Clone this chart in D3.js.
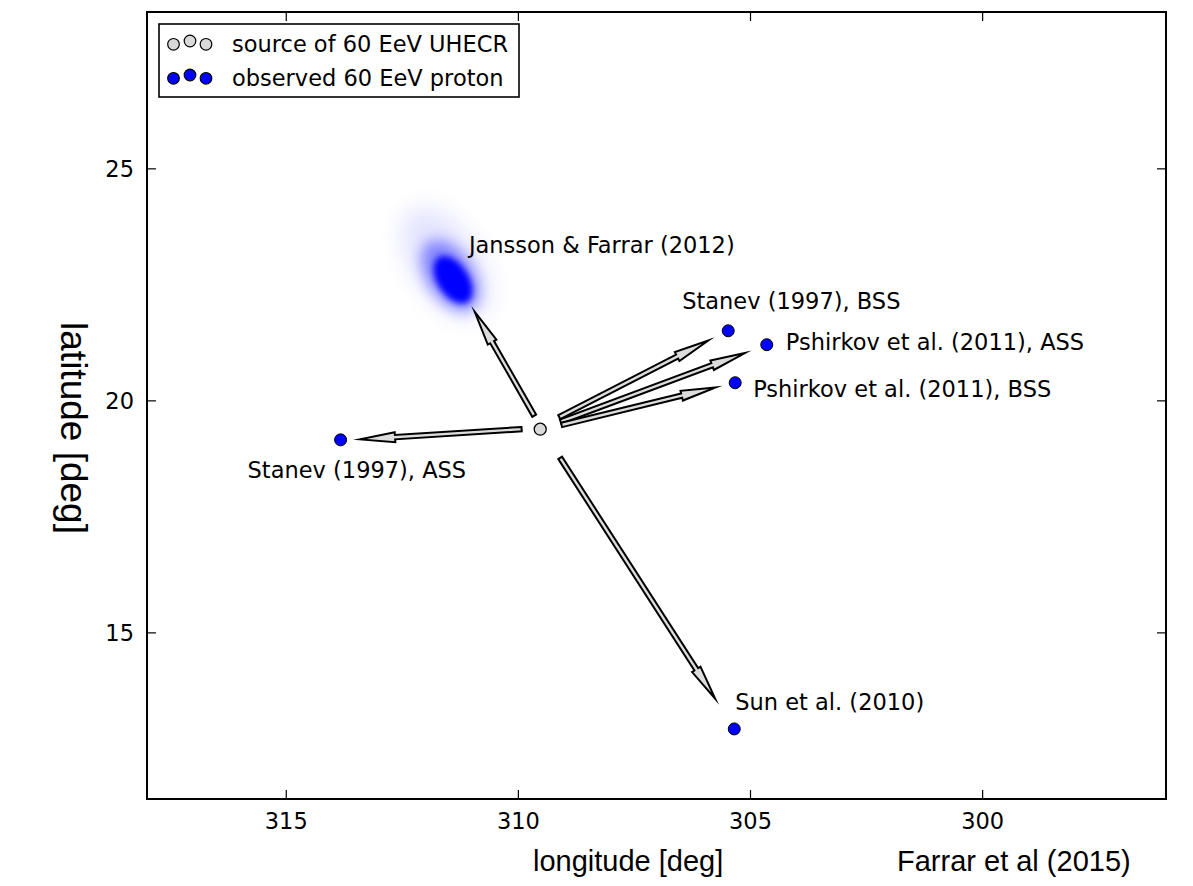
<!DOCTYPE html>
<html>
<head>
<meta charset="utf-8">
<script src="https://cdn.jsdelivr.net/npm/d3@7"></script>
<style>
  html, body { margin: 0; padding: 0; background: #ffffff; }
  svg { display: block; }
</style>
</head>
<body>
<svg id="chart" width="1193" height="886"></svg>
<script>
// Galactic coordinates (deg) of the UHECR source and of the observed 60 EeV proton
// arrival direction for each Galactic magnetic field model.
const sourceLon = 309.53;
const sourceLat = 19.39;

const modelNames = ["Stanev (1997), BSS", "Pshirkov et al. (2011), ASS", "Pshirkov et al. (2011), BSS",
                    "Stanev (1997), ASS", "Sun et al. (2010)"];
const modelLon = [305.48, 304.65, 305.33, 313.83, 305.35];
const modelLat = [21.51, 21.21, 20.39, 19.16, 12.93];

// Jansson & Farrar (2012): spread of arrival directions from the random field
const jfName = "Jansson & Farrar (2012)";
const jfLon = 311.41;
const jfLat = 22.61;

// Deflection arrows (tail and tip, deg)
const arrowTailLon = [309.66, 309.93, 309.12, 309.09, 309.07, 309.10];
const arrowTailLat = [19.68, 19.39, 19.65, 19.55, 19.48, 18.77];
const arrowTipLon  = [310.94, 313.41, 305.91, 305.12, 305.75, 305.76];
const arrowTipLat  = [21.92, 19.17, 21.30, 21.03, 20.29, 13.58];

const xTicks = [315, 310, 305, 300];
const yTicks = [15, 20, 25];
const legendLabels = ["source of 60 EeV UHECR", "observed 60 EeV proton"];

const svg = d3.select("#chart");
const W = 1193, H = 886;
const plot = { left: 147, right: 1166, top: 12, bottom: 799 };

// Longitude increases to the left (sky convention); equal scale on both axes.
const x = d3.scaleLinear().domain([318.0, 296.05]).range([plot.left, plot.right]);
const y = d3.scaleLinear().domain([28.38, 11.42]).range([plot.top, plot.bottom]);

svg.append("rect").attr("width", W).attr("height", H).attr("fill", "#ffffff");

const defs = svg.append("defs");
defs.append("clipPath").attr("id", "plotclip")
  .append("rect").attr("x", plot.left).attr("y", plot.top)
  .attr("width", plot.right - plot.left).attr("height", plot.bottom - plot.top);

const blur = (id, sd) => defs.append("filter").attr("id", id)
  .attr("x", "-100%").attr("y", "-100%").attr("width", "300%").attr("height", "300%")
  .append("feGaussianBlur").attr("stdDeviation", sd);
blur("blurWide", 12);
blur("blurMid", 7);
blur("blurCore", 3);

const g = svg.append("g").attr("clip-path", "url(#plotclip)");

// --- Jansson & Farrar cloud -------------------------------------------------
const pxPerDeg = x(309) - x(310);
const cloud = g.append("g")
  .attr("transform", `translate(${x(jfLon)},${y(jfLat)}) rotate(57)`);
cloud.append("ellipse").attr("cx", -18).attr("cy", -3)
  .attr("rx", 1.35 * pxPerDeg).attr("ry", 0.72 * pxPerDeg)
  .attr("fill", "#0000ff").attr("opacity", 0.11).attr("filter", "url(#blurWide)");
cloud.append("ellipse").attr("cx", -5).attr("cy", 0)
  .attr("rx", 0.85 * pxPerDeg).attr("ry", 0.5 * pxPerDeg)
  .attr("fill", "#0000ff").attr("opacity", 0.42).attr("filter", "url(#blurMid)");
cloud.append("ellipse").attr("cx", 0).attr("cy", 0)
  .attr("rx", 0.57 * pxPerDeg).attr("ry", 0.33 * pxPerDeg)
  .attr("fill", "#0000ff").attr("opacity", 1).attr("filter", "url(#blurCore)");

// --- arrows ----------------------------------------------------------------
function arrowPath(x0, y0, x1, y1) {
  const dx = x1 - x0, dy = y1 - y0;
  const L = Math.hypot(dx, dy);
  const ux = dx / L, uy = dy / L, nx = -uy, ny = ux;
  const w = 2.2, hw = 5.0, hl = 35;
  const bx = x1 - ux * hl, by = y1 - uy * hl;
  const pts = [
    [x0 + nx * w, y0 + ny * w],
    [bx + nx * w, by + ny * w],
    [bx + nx * hw, by + ny * hw],
    [x1, y1],
    [bx - nx * hw, by - ny * hw],
    [bx - nx * w, by - ny * w],
    [x0 - nx * w, y0 - ny * w]
  ];
  return "M" + pts.map(p => p.join(",")).join("L") + "Z";
}
g.selectAll("path.arrow")
  .data(d3.range(arrowTailLon.length))
  .join("path")
  .attr("class", "arrow")
  .attr("d", i => arrowPath(x(arrowTailLon[i]), y(arrowTailLat[i]), x(arrowTipLon[i]), y(arrowTipLat[i])))
  .attr("fill", "#dcdcdc")
  .attr("stroke", "#000")
  .attr("stroke-width", 2)
  .attr("stroke-linejoin", "miter")
  .attr("stroke-miterlimit", 20);

// --- points ----------------------------------------------------------------
g.append("circle")
  .attr("cx", x(sourceLon)).attr("cy", y(sourceLat)).attr("r", 6)
  .attr("fill", "#d9d9d9").attr("stroke", "#000").attr("stroke-width", 1.3);

g.selectAll("circle.model")
  .data(d3.range(modelLon.length))
  .join("circle")
  .attr("class", "model")
  .attr("cx", i => x(modelLon[i])).attr("cy", i => y(modelLat[i])).attr("r", 6)
  .attr("fill", "#0000ff").attr("stroke", "#000").attr("stroke-width", 1);

// --- model labels ----------------------------------------------------------
const labelFont = "'DejaVu Sans', sans-serif";
const labelOffset = [[-46, -22], [19, 5], [18, 14], [-93, 38], [1, -19]];
svg.selectAll("text.model")
  .data(d3.range(modelNames.length))
  .join("text")
  .attr("class", "model")
  .attr("x", i => x(modelLon[i]) + labelOffset[i][0])
  .attr("y", i => y(modelLat[i]) + labelOffset[i][1])
  .attr("font-family", labelFont).attr("font-size", 22.5).attr("fill", "#000")
  .text(i => modelNames[i]);

svg.append("text")
  .attr("x", x(jfLon) + 16).attr("y", y(jfLat) - 27)
  .attr("font-family", labelFont).attr("font-size", 22.5).attr("fill", "#000")
  .text(jfName);

// --- frame and ticks -------------------------------------------------------
const tickLen = 9;
const frame = svg.append("g").attr("stroke", "#000").attr("stroke-width", 1.2);
xTicks.forEach(t => {
  frame.append("line").attr("x1", x(t)).attr("x2", x(t)).attr("y1", plot.bottom).attr("y2", plot.bottom - tickLen);
  frame.append("line").attr("x1", x(t)).attr("x2", x(t)).attr("y1", plot.top).attr("y2", plot.top + tickLen);
});
yTicks.forEach(t => {
  frame.append("line").attr("y1", y(t)).attr("y2", y(t)).attr("x1", plot.left).attr("x2", plot.left + tickLen);
  frame.append("line").attr("y1", y(t)).attr("y2", y(t)).attr("x1", plot.right).attr("x2", plot.right - tickLen);
});
svg.append("rect")
  .attr("x", plot.left).attr("y", plot.top)
  .attr("width", plot.right - plot.left).attr("height", plot.bottom - plot.top)
  .attr("fill", "none").attr("stroke", "#000").attr("stroke-width", 2);

svg.selectAll("text.xtick").data(xTicks).join("text")
  .attr("class", "xtick")
  .attr("x", d => x(d)).attr("y", plot.bottom + 30)
  .attr("text-anchor", "middle")
  .attr("font-family", labelFont).attr("font-size", 22.5)
  .text(d => d);

svg.selectAll("text.ytick").data(yTicks).join("text")
  .attr("class", "ytick")
  .attr("x", plot.left - 13).attr("y", d => y(d) + 8)
  .attr("text-anchor", "end")
  .attr("font-family", labelFont).attr("font-size", 22.5)
  .text(d => d);

// --- axis titles and credit ------------------------------------------------
const titleFont = "'Liberation Sans', Arial, sans-serif";
svg.append("text")
  .attr("x", 533).attr("y", 871)
  .attr("font-family", titleFont).attr("font-size", 29)
  .text("longitude [deg]");
svg.append("text")
  .attr("x", 897).attr("y", 871)
  .attr("font-family", titleFont).attr("font-size", 29)
  .text("Farrar et al (2015)");
svg.append("text")
  .attr("transform", "translate(61,428) rotate(90)")
  .attr("text-anchor", "middle")
  .attr("font-family", titleFont).attr("font-size", 37)
  .text("latitude [deg]");

// --- legend ----------------------------------------------------------------
const legend = svg.append("g");
legend.append("rect")
  .attr("x", 159).attr("y", 24).attr("width", 360).attr("height", 73)
  .attr("fill", "#fff").attr("stroke", "#000").attr("stroke-width", 1.6);
const legendFill = ["#d9d9d9", "#0000ff"];
const markerDx = [0, 16.5, 32.5];
const markerDy = [0, -3.3, 0];
legendLabels.forEach((lab, r) => {
  const cy = 44.3 + r * 34;
  markerDx.forEach((dx, k) => {
    legend.append("circle")
      .attr("cx", 173.5 + dx).attr("cy", cy + markerDy[k]).attr("r", 5.8)
      .attr("fill", legendFill[r]).attr("stroke", "#000").attr("stroke-width", 1.2);
  });
  legend.append("text")
    .attr("x", 232).attr("y", cy + 8)
    .attr("font-family", labelFont).attr("font-size", 22.5)
    .text(lab);
});
</script>
</body>
</html>
